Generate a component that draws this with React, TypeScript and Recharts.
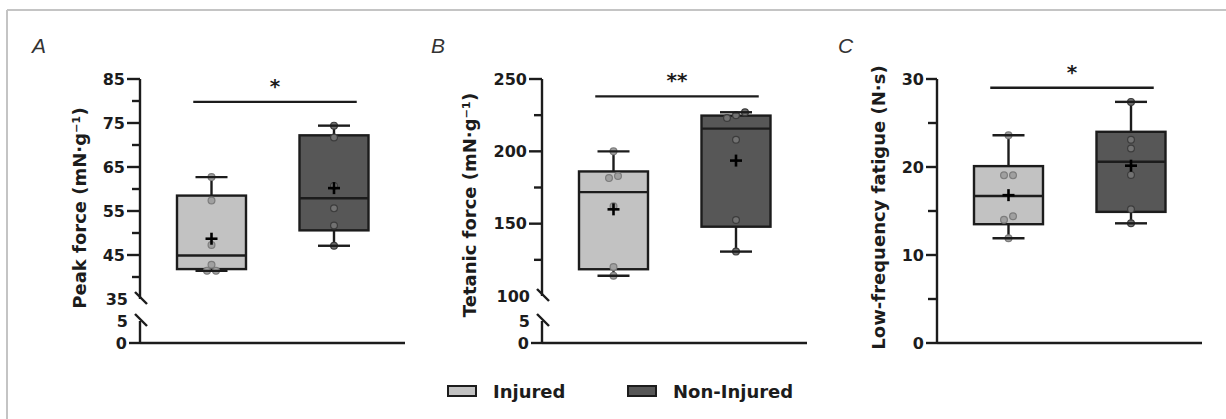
import React from 'react';
import { ComposedChart, Bar, XAxis, YAxis, ReferenceLine } from 'recharts';

// ---------- data ----------
const groups = ['Injured', 'Non-Injured'];

// Panel A – Peak force (mN·g⁻¹)
const peakMin = [41.4, 47.1];
const peakQ1 = [41.8, 50.6];
const peakMedian = [44.9, 57.9];
const peakQ3 = [58.5, 72.2];
const peakMax = [62.7, 74.4];
const peakMean = [48.7, 60.2];
const peakPointsInjured = [62.7, 57.4, 47.3, 42.8, 41.4, 41.4];
const peakPointsNonInjured = [74.4, 71.7, 60.7, 55.6, 51.7, 47.1];
const peakTicks = [35, 40, 45, 50, 55, 60, 65, 70, 75, 80, 85];
const peakTickLabels = [35, 45, 55, 65, 75, 85];
const peakSigLevel = 79.8;
const peakSigText = '*';

// Panel B – Tetanic force (mN·g⁻¹)
const tetMin = [114, 130.7];
const tetQ1 = [118.5, 147.9];
const tetMedian = [171.8, 215.7];
const tetQ3 = [186.1, 224.7];
const tetMax = [200, 227];
const tetMean = [159.9, 193.6];
const tetPointsInjured = [200, 183, 181.5, 162, 120, 114];
const tetPointsNonInjured = [227, 225, 223, 208, 152.5, 130.7];
const tetTicks = [100, 125, 150, 175, 200, 225, 250];
const tetTickLabels = [100, 150, 200, 250];
const tetSigLevel = 238;
const tetSigText = '**';

// Panel C – Low-frequency fatigue (N·s)
const lffMin = [11.9, 13.6];
const lffQ1 = [13.5, 14.9];
const lffMedian = [16.7, 20.6];
const lffQ3 = [20.1, 24.0];
const lffMax = [23.6, 27.4];
const lffMean = [16.8, 20.15];
const lffPointsInjured = [23.6, 19.05, 19.05, 14.4, 14.0, 11.9];
const lffPointsNonInjured = [27.4, 23.1, 22.1, 19.1, 15.2, 13.6];
const lffTicks = [0, 5, 10, 15, 20, 25, 30];
const lffTickLabels = [0, 10, 20, 30];
const lffSigLevel = 29;
const lffSigText = '*';

// broken-axis lower segment
const lowDomain: [number, number] = [0, 5];
const lowTicks = [0, 5];
const lowTickLabels = [0, 5];

// ---------- build tables ----------
type Row = {
  group: string; min: number; q1: number; median: number; q3: number; max: number; mean: number; points: number[];
};
const buildRows = (mn: number[], q1: number[], md: number[], q3: number[], mx: number[], me: number[], p0: number[], p1: number[]): Row[] =>
  groups.map((g, i) => ({ group: g, min: mn[i], q1: q1[i], median: md[i], q3: q3[i], max: mx[i], mean: me[i], points: i === 0 ? p0 : p1 }));

const peakRows = buildRows(peakMin, peakQ1, peakMedian, peakQ3, peakMax, peakMean, peakPointsInjured, peakPointsNonInjured);
const tetRows = buildRows(tetMin, tetQ1, tetMedian, tetQ3, tetMax, tetMean, tetPointsInjured, tetPointsNonInjured);
const lffRows = buildRows(lffMin, lffQ1, lffMedian, lffQ3, lffMax, lffMean, lffPointsInjured, lffPointsNonInjured);

// ---------- styles ----------
const INK = '#1c1c1c';
const BOX_FILL = ['#c2c2c2', '#575757'];
const DOT_FILL = ['#a0a0a0', '#727272'];
const DOT_STROKE = ['#7c7c7c', '#3c3c3c'];
const FONT = "'DejaVu Sans', sans-serif";
const LW = 2.4;

// ---------- box shape (uses Bar's scaled geometry of [min, max]) ----------
const BoxShape = (props: any) => {
  const { x, y, width, height, payload } = props;
  const d = payload as Row;
  const gi = groups.indexOf(d.group);
  const top = Math.min(y, y + height);
  const bottom = Math.max(y, y + height);
  const k = (bottom - top) / (d.max - d.min);
  const py = (v: number) => bottom - (v - d.min) * k;
  const cx = x + width / 2;
  const cap = 16;

  // simple beeswarm for overlapping dots
  const sorted = [...d.points].sort((a, b) => a - b).map((v) => py(v));
  const clusters: number[][] = [];
  sorted.forEach((p) => {
    const last = clusters[clusters.length - 1];
    if (last && Math.abs(last[last.length - 1] - p) < 5) last.push(p);
    else clusters.push([p]);
  });
  const dots: { x: number; y: number }[] = [];
  clusters.forEach((c) => c.forEach((p, j) => dots.push({ x: cx + (j - (c.length - 1) / 2) * 9, y: p })));

  const yq1 = py(d.q1), yq3 = py(d.q3), ymed = py(d.median), ymean = py(d.mean);
  const ymax = py(d.max), ymin = py(d.min);
  return (
    <g>
      <line x1={cx} y1={yq3} x2={cx} y2={ymax} stroke={INK} strokeWidth={LW} />
      <line x1={cx} y1={yq1} x2={cx} y2={ymin} stroke={INK} strokeWidth={LW} />
      <rect x={x} y={yq3} width={width} height={yq1 - yq3} fill={BOX_FILL[gi]} stroke={INK} strokeWidth={LW} />
      {dots.map((p, i) => (
        <circle key={i} cx={p.x} cy={p.y} r={3.4} fill={DOT_FILL[gi]} stroke={DOT_STROKE[gi]} strokeWidth={1.2} />
      ))}
      <line x1={x} y1={ymed} x2={x + width} y2={ymed} stroke={INK} strokeWidth={LW} />
      <line x1={cx - cap} y1={ymax} x2={cx + cap} y2={ymax} stroke={INK} strokeWidth={LW} />
      <line x1={cx - cap} y1={ymin} x2={cx + cap} y2={ymin} stroke={INK} strokeWidth={LW} />
      <line x1={cx - 6} y1={ymean} x2={cx + 6} y2={ymean} stroke="#000" strokeWidth={2.6} />
      <line x1={cx} y1={ymean - 6} x2={cx} y2={ymean + 6} stroke="#000" strokeWidth={2.6} />
    </g>
  );
};

const EmptyShape = () => <g />;

// ---------- y tick renderer ----------
const makeTick = (labels: number[], breakValue: number | null, major: number, minor: number) => (props: any) => {
  const { x, y, payload } = props;
  const v = payload.value;
  const ax = x;
  if (breakValue !== null && v === breakValue) {
    return (
      <g>
        <line x1={ax - 5} y1={y - 7} x2={ax + 7} y2={y + 5} stroke={INK} strokeWidth={LW} />
        <text x={ax - 12} y={y} dy="0.36em" textAnchor="end" fontFamily={FONT} fontWeight="bold" fontSize={16} fill={INK}>{v}</text>
      </g>
    );
  }
  const isLabel = labels.includes(v);
  const len = isLabel ? major : minor;
  return (
    <g>
      <line x1={ax - len} y1={y} x2={ax} y2={y} stroke={INK} strokeWidth={LW} />
      {isLabel && (
        <text x={ax - len - 2} y={y} dy="0.36em" textAnchor="end" fontFamily={FONT} fontWeight="bold" fontSize={16} fill={INK}>{v}</text>
      )}
    </g>
  );
};

// ---------- significance bar ----------
const sigShape = (text: string) => (p: any) => {
  const x1 = p.x1 - 18;
  const x2 = p.x2 + 23;
  return (
    <g>
      <line x1={x1} y1={p.y1} x2={x2} y2={p.y2} stroke={INK} strokeWidth={LW} />
      <text x={(x1 + x2) / 2} y={p.y1 - 9} textAnchor="middle" fontFamily={FONT} fontWeight="bold" fontSize={20} fill={INK}>{text}</text>
    </g>
  );
};

const axisStroke = { stroke: INK, strokeWidth: LW };

type UpperProps = {
  left: number; plotH: number; rows: Row[]; domain: [number, number]; ticks: number[]; labels: number[];
  breakValue: number | null; sigLevel: number; sigText: string; major: number; minor: number; showX: boolean;
};

const Upper = ({ left, plotH, rows, domain, ticks, labels, breakValue, sigLevel, sigText, major, minor, showX }: UpperProps) => {
  const xh = showX ? 10 : 0;
  const height = 30 + plotH + (showX ? xh : 10);
  return (
    <div style={{ position: 'absolute', left, top: 49 }}>
      <ComposedChart width={360} height={height} data={rows} margin={{ top: 30, right: 15, bottom: showX ? 0 : 10, left: 0 }}>
        <XAxis dataKey="group" type="category" hide={!showX} height={xh} tick={false} tickLine={false} axisLine={axisStroke} padding={{ left: 10, right: 10 }} />
        <YAxis type="number" domain={domain} ticks={ticks} interval={0} width={80} tickSize={0} tickMargin={0}
          axisLine={axisStroke} tickLine={false} tick={makeTick(labels, breakValue, major, minor)} />
        <Bar dataKey={(d: Row) => [d.min, d.max]} barSize={69} shape={BoxShape} isAnimationActive={false} />
        <ReferenceLine segment={[{ x: groups[0], y: sigLevel }, { x: groups[1], y: sigLevel }]} shape={sigShape(sigText)} />
      </ComposedChart>
    </div>
  );
};

const Lower = ({ left, rows, major }: { left: number; rows: Row[]; major: number }) => (
  <div style={{ position: 'absolute', left, top: 311 }}>
    <ComposedChart width={360} height={42} data={rows} margin={{ top: 10, right: 15, bottom: 0, left: 0 }}>
      <XAxis dataKey="group" type="category" height={10} tick={false} tickLine={false} axisLine={axisStroke} padding={{ left: 10, right: 10 }} />
      <YAxis type="number" domain={lowDomain} ticks={lowTicks} interval={0} width={80} tickSize={0} tickMargin={0}
        axisLine={axisStroke} tickLine={false} tick={makeTick(lowTickLabels, 5, major, 8)} />
      <Bar dataKey={() => lowDomain} barSize={1} shape={EmptyShape} isAnimationActive={false} />
    </ComposedChart>
  </div>
);

const titleStyle = { fontFamily: FONT, fontWeight: 'bold' as const, fontSize: 18, fill: INK };
const letterStyle = { fontFamily: "'Liberation Sans', Arial, sans-serif", fontStyle: 'italic' as const, fontSize: 21, fill: '#333' };

export default function App() {
  return (
    <div style={{ position: 'absolute', left: 0, top: 0, width: 1226, height: 419, background: '#fff', overflow: 'hidden' }}>
      <Upper left={60} plotH={220} rows={peakRows} domain={[35, 85]} ticks={peakTicks} labels={peakTickLabels} breakValue={35}
        sigLevel={peakSigLevel} sigText={peakSigText} major={13} minor={8} showX={false} />
      <Lower left={60} rows={peakRows} major={11} />
      <Upper left={462} plotH={217} rows={tetRows} domain={[100, 250]} ticks={tetTicks} labels={tetTickLabels} breakValue={100}
        sigLevel={tetSigLevel} sigText={tetSigText} major={13} minor={8} showX={false} />
      <Lower left={462} rows={tetRows} major={11} />
      <Upper left={857} plotH={264} rows={lffRows} domain={[0, 30]} ticks={lffTicks} labels={lffTickLabels} breakValue={null}
        sigLevel={lffSigLevel} sigText={lffSigText} major={11} minor={9} showX={true} />

      <svg width={1226} height={419} style={{ position: 'absolute', left: 0, top: 0, pointerEvents: 'none' }}>
        <line x1={7} y1={10} x2={1226} y2={10} stroke="#c4c4c4" strokeWidth={2} />
        <line x1={7} y1={10} x2={7} y2={419} stroke="#c4c4c4" strokeWidth={2} />

        <text x={32} y={53} style={letterStyle}>A</text>
        <text x={431} y={53} style={letterStyle}>B</text>
        <text x={838} y={53} style={letterStyle}>C</text>

        <text transform="translate(85.5,208) rotate(-90)" textAnchor="middle" style={titleStyle}>Peak force (mN·g⁻¹)</text>
        <text transform="translate(476,205) rotate(-90)" textAnchor="middle" style={titleStyle}>Tetanic force (mN·g⁻¹)</text>
        <text transform="translate(884.5,207.5) rotate(-90)" textAnchor="middle" style={titleStyle}>Low-frequency fatigue (N·s)</text>

        <rect x={448} y={386} width={28} height={10} fill={BOX_FILL[0]} stroke={INK} strokeWidth={2} />
        <text x={493} y={397.5} style={titleStyle}>{groups[0]}</text>
        <rect x={628} y={386} width={28} height={10} fill={BOX_FILL[1]} stroke={INK} strokeWidth={2} />
        <text x={673} y={397.5} style={titleStyle}>{groups[1]}</text>
      </svg>
    </div>
  );
}
